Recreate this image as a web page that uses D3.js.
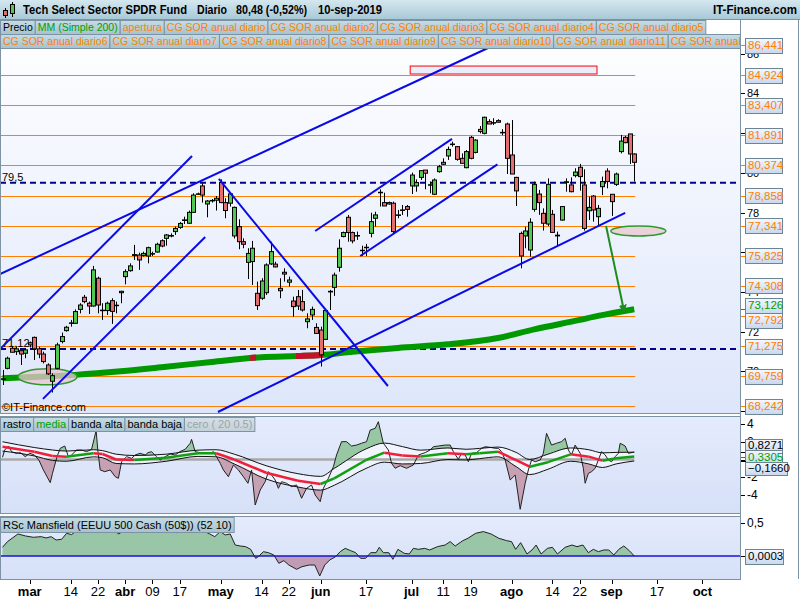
<!DOCTYPE html>
<html><head><meta charset="utf-8">
<script src="https://cdn.jsdelivr.net/npm/d3@7"></script>
<style>body{margin:0;background:#fff}svg{display:block;font-family:"Liberation Sans",Arial,sans-serif}</style>
</head><body><svg id="c" width="800" height="600"></svg>
<script>
// ---------- DATA ----------
const opens = [69.62,70.15,71.16,70.99,71.04,70.91,71.44,71.71,71.13,70.87,70.32,69.50,70.15,71.50,72.05,72.42,72.42,73.12,73.73,73.43,73.29,74.69,73.06,73.06,73.56,73.31,73.96,74.77,75.07,75.84,75.86,75.84,75.81,75.91,76.01,76.58,76.70,76.82,77.04,77.25,77.60,77.46,78.01,78.93,79.34,78.43,78.60,78.62,79.51,78.50,78.47,76.82,77.29,76.53,75.49,75.53,73.93,73.68,73.96,75.41,75.40,74.18,74.99,74.49,73.54,73.76,73.51,72.50,72.84,72.21,72.08,71.61,74.00,74.23,75.24,76.79,77.76,76.99,76.82,76.08,76.23,76.95,77.71,79.00,78.50,78.50,78.47,77.86,78.11,78.30,79.34,79.34,79.77,80.14,79.38,78.92,80.06,80.43,80.85,81.43,81.32,80.73,80.26,81.79,81.03,82.19,81.99,82.58,82.52,82.63,82.02,82.46,80.90,79.77,76.95,76.82,76.11,78.16,78.93,77.96,77.42,77.91,76.82,77.62,79.52,79.39,79.86,80.28,79.39,78.09,78.83,77.79,79.30,80.09,78.92,79.42,81.07,81.79,81.96,80.95];
const highs = [70.07,70.74,71.28,71.24,71.11,71.16,71.50,71.75,71.24,70.99,70.40,69.90,71.44,71.95,72.29,72.59,73.12,73.43,73.85,73.51,75.31,74.77,73.43,73.51,73.68,73.51,74.06,75.14,75.44,76.37,75.98,76.03,76.28,76.03,76.48,76.65,76.92,76.95,77.29,77.52,77.79,78.10,78.97,79.00,79.47,78.63,78.68,78.83,79.67,78.72,78.97,78.30,77.66,76.70,76.20,76.57,74.52,74.69,75.44,76.53,75.52,74.69,75.19,74.77,73.76,74.10,74.10,72.92,73.26,72.42,72.25,73.09,74.10,74.97,76.65,77.04,77.88,77.04,77.04,76.33,76.42,77.99,78.04,79.17,79.00,78.55,78.55,78.13,78.38,78.38,80.01,79.67,80.14,80.14,79.56,79.72,80.40,80.73,81.32,81.57,81.35,80.98,81.15,81.86,81.69,82.36,82.83,82.70,82.75,82.70,82.20,82.53,82.66,79.80,77.04,77.29,77.71,79.56,79.14,78.21,79.72,78.13,77.04,78.33,79.72,79.77,80.23,80.45,80.18,78.80,78.88,78.38,79.81,80.23,78.93,80.01,81.91,81.86,81.96,80.98];
const lows = [69.31,70.10,70.96,70.82,70.32,70.66,71.20,70.57,70.66,70.40,69.82,68.93,70.10,71.41,72.00,72.25,72.39,72.92,73.43,72.89,73.26,72.92,72.59,72.84,72.39,72.92,73.43,74.38,75.02,75.61,75.11,75.78,75.44,75.81,75.98,76.25,76.33,76.75,76.87,77.18,77.42,77.42,77.99,78.90,78.50,77.76,78.50,78.10,78.47,77.71,78.30,76.69,76.15,76.20,74.65,74.35,73.09,73.60,73.85,75.36,75.24,73.68,74.52,74.27,72.75,73.09,73.01,72.17,72.59,71.88,70.24,71.61,73.09,73.80,75.02,76.75,76.53,76.45,76.62,75.81,75.81,76.75,77.29,78.30,78.33,78.40,76.95,77.71,77.88,77.79,78.93,79.05,79.64,79.17,78.97,78.88,80.01,80.40,80.65,81.32,80.61,80.48,80.23,80.68,80.98,81.99,81.94,82.46,82.41,82.53,81.90,79.94,79.94,78.33,75.19,76.20,75.78,78.04,77.88,77.09,77.32,76.99,76.28,77.59,79.05,79.02,79.77,79.10,77.09,77.62,77.54,77.29,78.88,79.22,77.83,79.34,80.98,81.49,80.45,79.56];
const closes = [69.60,70.66,70.96,71.13,70.87,71.08,71.33,71.13,70.87,70.49,69.87,69.78,71.33,71.75,72.22,72.44,73.01,73.34,73.51,73.29,75.11,73.34,73.08,73.43,73.02,73.33,74.03,75.02,75.31,75.88,75.61,75.94,76.23,75.93,76.40,76.31,76.87,76.84,77.20,77.45,77.63,78.01,78.88,78.94,78.88,78.58,78.61,78.72,78.50,78.10,78.94,78.26,76.53,76.40,75.94,76.20,73.31,74.55,75.36,76.03,75.26,74.06,74.90,74.60,73.26,73.29,73.09,72.64,73.12,71.91,70.83,73.06,74.03,74.85,76.20,76.99,76.99,76.57,76.84,76.10,76.25,77.54,77.88,79.02,78.33,78.43,77.04,77.88,78.13,78.16,79.89,79.51,80.11,79.98,79.40,79.64,80.31,80.53,81.18,81.45,80.68,80.48,81.07,80.73,81.65,82.08,82.80,82.46,82.53,82.55,82.04,80.73,79.94,79.09,75.81,77.07,77.51,79.42,78.50,77.46,79.42,77.00,76.86,78.30,79.55,79.05,80.04,79.81,77.20,78.26,78.13,78.21,79.56,79.56,78.55,79.94,81.60,81.52,80.95,80.53];

// x-axis ticks (trading-day index from 21-feb-2019)
const tickIdx = [6,15,21,27,33,39,48,57,63,70,80,90,97,103,112,121,127,134,144,154];
const tickLabels = ["mar","14","22","abr","09","17","may","14","22","jun","17","jul","11","19","ago","14","22","sep","17","oct"];
const tickMonth = [1,0,0,1,0,0,1,0,0,1,0,1,0,0,1,0,0,1,0,1];

// Moving average 200 (index, value)
const mmIdx = [0,8,16,26,36,46,57,65,70,77,87,98,109,117,127,131,139];
const mmVal = [69.65,69.72,69.82,70.00,70.23,70.47,70.71,70.77,70.82,70.98,71.18,71.36,71.68,72.11,72.59,72.79,73.13];
const mmRedRanges = [[54.5,55.8],[64.6,70.5]];

// CG SOR levels and horizontal dashed levels
const sorLevels = [86.441,84.924,83.407,81.891,80.374,78.858,77.341,75.825,74.308,72.792,71.275,69.759,68.242];
const dashLevels = [79.5,71.12];
const dashLabels = ["79,5","71,12"];

// trend lines [idx1, v1, idx2, v2]
const trendLines = [
  [-0.55,74.90,107.3,86.34],
  [-0.55,71.12,41.7,80.85],
  [8.9,68.61,44.6,76.77],
  [47.6,79.69,84.8,69.26],
  [68.8,77.07,98.9,81.71],
  [78.7,75.81,108.9,80.43],
  [47.4,67.95,137.0,77.98]
];
const arrowLine = [132.8,77.32,136.8,72.99];
const ellipses = [[139.9,77.07],[9.9,69.72]];
const boxZone = [89.7,85.38,130.8,84.98];

// Indicator panel: rastro, media, banda alta, banda baja
const rastro = [[0,0.25],[0.5,1.07],[1.3,1.52],[2,0.88],[3,0.70],[4,0.77],[5,0.32],[6,0.70],[7,0.51],[8,-0.06],[9,-1.18],[10.5,-2.61],[11,-1.56],[12,0.32],[12.7,1.26],[13.7,1.52],[14.5,0.32],[15.2,0.51],[16.3,1.07],[17.4,1.07],[18.5,0.88],[19.6,1.15],[20.6,3.25],[21,0.88],[21.5,-1.18],[22.5,-1.37],[23.7,-1.18],[24.8,-1.94],[25.5,-2.12],[26.2,-0.25],[27.3,0.32],[28.4,0.13],[29.2,0.51],[30.3,0.70],[31.4,0.51],[32,0.77],[32.8,0.88],[33.9,0.32],[34.7,-0.06],[35.8,0.32],[36.9,0.62],[38,0.51],[39,0.88],[40.2,1.15],[41.3,1.83],[41.6,2.27],[42.4,0.88],[43.5,0.77],[44.6,0.77],[45.7,0.70],[46.4,0.88],[47.1,0.32],[47.9,-0.43],[48.6,-1.18],[49.7,-1.94],[50.8,-0.62],[51.9,-1.18],[53,-1.94],[54,-2.68],[54.8,-1.18],[55.6,-5.13],[56.7,-3.44],[57.8,-2.50],[58.5,-1.37],[59.2,-1.75],[60,-2.31],[60.7,-3.25],[61.4,-2.50],[62.5,-2.68],[63.6,-3.06],[64.7,-2.87],[65.8,-4.37],[66.9,-3.25],[68,-2.87],[68.8,-4.0],[69.9,-4.75],[70.6,-3.25],[71.7,-2.12],[72.8,-0.81],[73.5,0.51],[74.6,2.01],[75.7,2.01],[76.8,1.52],[77.9,1.63],[79,1.83],[80.1,2.01],[80.9,3.32],[82,3.51],[82.7,4.26],[83.8,1.83],[84.9,1.07],[85.6,-0.43],[86.4,-0.99],[87.5,-0.70],[88.9,-0.99],[90.4,-0.62],[91.5,0.51],[93,0.77],[94.1,1.07],[94.8,1.44],[95.9,1.52],[97.4,1.63],[98.5,1.63],[99.2,0.88],[100.3,0.02],[101,0.70],[101.8,0.51],[102.5,-0.25],[103.2,0.70],[104.3,0.77],[105.4,1.26],[106.2,1.44],[107.3,1.37],[108.4,1.26],[109.1,1.26],[109.8,0.88],[110.6,-0.06],[111.7,-2.31],[112.8,-1.75],[113.9,-5.61],[115,-2.68],[115.7,-1.18],[116.4,-0.06],[117.2,-0.25],[118.3,-0.06],[119,0.70],[119.7,2.95],[120.8,1.63],[121.9,1.83],[123,2.01],[123.8,2.39],[124.5,1.07],[125.2,0.51],[126,1.63],[127.1,0.70],[127.8,-0.99],[128.2,-2.68],[128.9,-1.56],[129.6,-1.37],[130.4,-0.99],[131.1,-0.06],[131.8,0.88],[132.6,0.51],[133.3,-0.06],[134,-0.25],[134.8,0.32],[135.5,0.70],[135.9,1.83],[137,1.52],[137.7,0.70],[139,0.83]];
const bandIdx = [0,7,11,14,20,22,25,29,36,43,47,51,58,65,70,73,80,84,88,92,98,102,105,109,113,116,120,125,129,132,135,139];
const mediaVal = [1.44,0.88,0.40,0.32,0.70,0.62,0.00,-0.06,0.20,0.70,0.70,0.00,-1.49,-2.39,-2.76,-2.12,-0.06,0.77,0.45,0.35,0.70,0.58,0.70,0.88,-0.06,-0.81,-0.30,0.58,0.32,-0.13,0.13,0.3305];
const altaVal = [2.00,1.35,1.07,0.95,1.10,1.00,0.60,0.45,0.60,1.05,1.10,0.60,-0.70,-1.60,-1.90,-1.00,1.20,1.85,1.45,1.05,1.30,1.15,1.25,1.40,0.80,0.00,0.60,1.30,1.10,0.75,0.80,0.8271];
const bajaVal = [0.95,0.40,-0.10,-0.20,0.30,0.20,-0.45,-0.50,-0.20,0.35,0.30,-0.50,-2.20,-3.10,-3.45,-2.90,-1.00,-0.30,-0.50,-0.45,0.00,-0.05,0.10,0.30,-0.80,-1.70,-1.10,-0.20,-0.50,-0.90,-0.50,-0.1660];

// RSc Mansfield
const mansfield = [[0,0.133],[1.1,0.22],[3.4,0.337],[5.1,0.306],[6.8,0.286],[8.5,0.296],[9.6,0.276],[10.7,0.296],[11.8,0.245],[13,0.255],[14.1,0.347],[15.2,0.327],[16.3,0.388],[17.5,0.408],[19.1,0.449],[20.8,0.439],[22,0.408],[23.1,0.424],[24.2,0.398],[25.6,0.337],[27,0.408],[28.7,0.424],[29.8,0.449],[31,0.373],[32.1,0.398],[33.2,0.388],[34.3,0.424],[35.6,0.373],[36.7,0.388],[38.3,0.357],[39.4,0.398],[40.5,0.424],[41.7,0.449],[42.8,0.424],[44.5,0.373],[45.6,0.337],[46.7,0.296],[47.9,0.373],[49,0.322],[50.1,0.337],[51.2,0.168],[52.3,0.153],[53.5,0.143],[54.6,0.102],[55.7,-0.036],[56.3,-0.010],[57.4,0.066],[58.5,0.051],[59.7,0.015],[60.8,-0.112],[61.9,-0.071],[63,-0.138],[64.7,-0.204],[65.9,-0.163],[67.5,-0.138],[68.7,-0.138],[69.8,-0.306],[70.9,-0.138],[72,-0.061],[73.3,-0.010],[74.3,0.066],[75.4,0.117],[76.6,0.082],[77.7,0.051],[78.8,-0.036],[79.9,-0.036],[81,0.051],[82.2,0.051],[82.9,0.133],[83.8,0.051],[85,0.051],[85.9,-0.051],[87,0.102],[88.4,0.041],[89.5,0.031],[90.4,0.117],[91.5,0.102],[92.9,0.117],[94,0.092],[95.7,0.143],[97.4,0.168],[98.5,0.220],[99.6,0.153],[101.3,0.235],[102.4,0.271],[104.1,0.347],[105.8,0.373],[107.5,0.337],[109.2,0.271],[110.9,0.235],[112,0.220],[112.9,0.102],[114,0.204],[115.4,0.031],[116.5,0.092],[117.4,0.168],[118.5,0.031],[119.9,0.117],[121,0.133],[122.1,0.031],[123.8,0.133],[125.3,0.168],[126.4,0.143],[127.7,0.168],[128.9,0.051],[130,0.102],[131.1,0.066],[132.3,0.092],[133.4,0.092],[134.5,0.015],[135.6,0.102],[136.7,0.153],[137.9,0.082],[139,0.0003]];

const legendRow1 = ["Precio","MM (Simple 200)","apertura","CG SOR anual diario","CG SOR anual diario2","CG SOR anual diario3","CG SOR anual diario4","CG SOR anual diario5"];
const legendRow1Col = ["#000","#00a000","#ff8000","#ff8000","#ff8000","#ff8000","#ff8000","#ff8000"];
const legendRow2 = ["CG SOR anual diario6","CG SOR anual diario7","CG SOR anual diario8","CG SOR anual diario9","CG SOR anual diario10","CG SOR anual diario11","CG SOR anual diario12"];
const ind1Legend = ["rastro","media","banda alta","banda baja","cero ( 20 0.5)"];
const ind1LegendCol = ["#000","#00a000","#000","#000","#9aa4aa"];
const titleParts = ["Tech Select Sector SPDR Fund","Diario","80,48 (-0,52%)","10-sep-2019"];

// ---------- DRAW ----------
const svg = d3.select("#c");
const fmt = v => d3.format(",.3f")(v).replace(".", ",");
const ORANGE = "#ff8000", BORDER = "#7d93a3";
const defs = svg.append("defs");
function grad(id, c1, c2){ const g = defs.append("linearGradient").attr("id",id).attr("x1",0).attr("y1",0).attr("x2",0).attr("y2",1);
  g.append("stop").attr("offset","0%").attr("stop-color",c1); g.append("stop").attr("offset","100%").attr("stop-color",c2); }
grad("gHead","#d4e7ef","#a9c9d7"); grad("gTab","#c6dce5","#a5c2cf"); grad("gMain","#ffffff","#dde6fa");
grad("gInd","#e4ebfc","#d6e0f7"); grad("gBox","#f4f8ff","#c9d8ee"); grad("gTabG","#d6e0e6","#c2d0d8");

svg.append("rect").attr("width",800).attr("height",600).attr("fill","#fff");

const x = d3.scaleLinear().domain([0,154]).range([2.5, 2.5+154*4.545]);
const y = d3.scaleLinear().domain([68.242,86.441]).range([406.2,45]);
const y1 = d3.scaleLinear().domain([-4,4]).range([495,424]);
const y2 = d3.scaleLinear().domain([0,0.5]).range([556,523.3]);

// panels
const P0 = {t:19,b:413}, P1 = {t:416,b:513}, P2 = {t:516,b:579};
[[P0,"url(#gMain)","cp0"],[P1,"url(#gInd)","cp1"],[P2,"url(#gInd)","cp2"]].forEach(([p,f,id])=>{
  svg.append("rect").attr("x",0.5).attr("y",p.t+0.5).attr("width",740).attr("height",p.b-p.t).attr("fill",f).attr("stroke",BORDER);
  defs.append("clipPath").attr("id",id).append("rect").attr("x",1).attr("y",p.t+1).attr("width",739).attr("height",p.b-p.t-1);
});
svg.append("line").attr("x1",798.5).attr("x2",798.5).attr("y1",19).attr("y2",579).attr("stroke",BORDER);

// ---- main panel ----
const m = svg.append("g").attr("clip-path","url(#cp0)");
const lastX = x(opens.length-1);
m.selectAll("line.sor").data(sorLevels).join("line").attr("x1",0).attr("x2",lastX+1)
  .attr("y1",d=>Math.round(y(d))+0.5).attr("y2",d=>Math.round(y(d))+0.5).attr("stroke",ORANGE).attr("stroke-width",1);
m.append("rect").attr("x",x(boxZone[0])).attr("y",y(boxZone[1])).attr("width",x(boxZone[2])-x(boxZone[0]))
  .attr("height",y(boxZone[3])-y(boxZone[1])).attr("fill","#e8eefc").attr("stroke","#ff0000");
m.selectAll("line.dash").data(dashLevels).join("line").attr("x1",0).attr("x2",740)
  .attr("y1",d=>y(d)).attr("y2",d=>y(d)).attr("stroke","#00008b").attr("stroke-width",2).attr("stroke-dasharray","6,4");
m.selectAll("text.dl").data(dashLevels).join("text").attr("x",2).attr("y",d=>y(d)-2).text((d,i)=>dashLabels[i])
  .style("font-size","11px").attr("fill","#000");

// MM200
const mmPts = mmIdx.map((d,i)=>[d,mmVal[i]]);
const mmLine = d3.line().x(d=>x(d[0])).y(d=>y(d[1])).curve(d3.curveMonotoneX);
m.append("path").attr("d",mmLine(mmPts)).attr("fill","none").attr("stroke","#009a00").attr("stroke-width",6);
mmRedRanges.forEach((r,k)=>{
  defs.append("clipPath").attr("id","mmr"+k).append("rect").attr("x",x(r[0])).attr("y",0).attr("width",x(r[1])-x(r[0])).attr("height",600);
  m.append("path").attr("d",mmLine(mmPts)).attr("fill","none").attr("stroke","#c8102e").attr("stroke-width",6).attr("clip-path",`url(#mmr${k})`);
});

// ellipses
m.selectAll("ellipse").data(ellipses).join("ellipse").attr("cx",d=>x(d[0])).attr("cy",d=>y(d[1]))
  .attr("rx",(d,i)=>i===0?27.5:29.5).attr("ry",(d,i)=>i===0?5:8)
  .attr("fill","#e9c6cf").attr("fill-opacity",0.75).attr("stroke","#2e9a2e").attr("stroke-width",1.5);

// candles
const candles = d3.range(opens.length).map(i=>({i,o:opens[i],h:highs[i],l:lows[i],c:closes[i]}));
m.selectAll("line.wick").data(candles).join("line").attr("x1",d=>Math.round(x(d.i))+0.5).attr("x2",d=>Math.round(x(d.i))+0.5)
  .attr("y1",d=>y(d.h)).attr("y2",d=>y(d.l)).attr("stroke","#000").attr("stroke-width",1);
m.selectAll("rect.body").data(candles).join("rect")
  .attr("x",d=>Math.round(x(d.i))-1.5).attr("width",4)
  .attr("y",d=>Math.min(y(d.o),y(d.c))).attr("height",d=>Math.max(Math.abs(y(d.o)-y(d.c)),0.5))
  .attr("fill",d=>d.c>=d.o?"#52c852":"#e46e6e").attr("stroke","#000").attr("stroke-width",1);

// trend lines
m.selectAll("line.tl").data(trendLines).join("line").attr("x1",d=>x(d[0])).attr("y1",d=>y(d[1])).attr("x2",d=>x(d[2])).attr("y2",d=>y(d[3]))
  .attr("stroke","#0a0ae6").attr("stroke-width",2);

// arrow
const mk = defs.append("marker").attr("id","arr").attr("viewBox","0 0 10 10").attr("refX",9).attr("refY",5)
  .attr("markerWidth",4).attr("markerHeight",4).attr("orient","auto");
mk.append("path").attr("d","M0,0L10,5L0,10z").attr("fill","#1e8c1e");
m.append("line").attr("x1",x(arrowLine[0])).attr("y1",y(arrowLine[1])).attr("x2",x(arrowLine[2])).attr("y2",y(arrowLine[3]))
  .attr("stroke","#1e8c1e").attr("stroke-width",2).attr("marker-end","url(#arr)");

m.append("text").attr("x",2).attr("y",411).text("©IT-Finance.com").style("font-size","11px").attr("fill","#000");

// right axis main
const ax = svg.append("g");
ax.append("line").attr("x1",740.5).attr("x2",740.5).attr("y1",19).attr("y2",579).attr("stroke",BORDER);
const intTicks = d3.range(68,88,2);
ax.selectAll("line.it").data(intTicks).join("line").attr("x1",741).attr("x2",745).attr("y1",d=>Math.round(y(d))+0.5).attr("y2",d=>Math.round(y(d))+0.5).attr("stroke","#000");
ax.selectAll("text.it").data(intTicks).join("text").attr("x",747).attr("y",d=>y(d)+4).text(d=>d).style("font-size","11px");

function spread(items,gap){ items.sort((a,b)=>a.y-b.y);
  for(let it=0;it<60;it++){ let mv=false;
    for(let k=1;k<items.length;k++){ const dd=items[k].y-items[k-1].y; if(dd<gap){const s=(gap-dd)/2; items[k].y+=s; items[k-1].y-=s; mv=true;} }
    if(!mv)break; } return items; }
function boxLabel(g, yy, ytick, txt, col, w, h){
  g.append("line").attr("x1",741).attr("x2",746).attr("y1",Math.round(ytick)+0.5).attr("y2",Math.round(ytick)+0.5).attr("stroke",col);
  g.append("rect").attr("x",745.5).attr("y",Math.round(yy-h/2)+0.5).attr("width",w).attr("height",h).attr("fill","url(#gBox)").attr("stroke","#6b8595");
  g.append("text").attr("x",748).attr("y",yy+4).text(txt).attr("fill",col).style("font-size","11.5px");
}
const mainLabels = sorLevels.map(v=>({v,y:y(v),t:fmt(v),c:ORANGE})).concat([{v:73.126,y:y(73.126),t:"73,126",c:"#00a000"}]);
spread(mainLabels.map(d=>Object.assign({},d)),15).forEach(d=>boxLabel(ax,d.y,y(d.v),d.t,d.c,37,15));

// legends
function tabs(g, items, cols, x0, y0, h, bg, fs){
  let xx=x0;
  items.forEach((t,i)=>{
    const gg=g.append("g"); const r=gg.append("rect").attr("y",y0+0.5).attr("height",h).attr("fill",bg?bg[i]:"url(#gTab)").attr("stroke",BORDER);
    const tx=gg.append("text").attr("x",xx+3).attr("y",y0+h-3).text(t).attr("fill",cols[i]).style("font-size",(fs||10.5)+"px");
    const w=tx.node().getComputedTextLength()+5; r.attr("x",xx+0.5).attr("width",w); xx+=w;
  });
}
const lg = svg.append("g");
tabs(lg, legendRow1, legendRow1Col, 0, 20, 14);
const lg2 = svg.append("g").attr("clip-path","url(#cp0)");
tabs(lg2, legendRow2, legendRow2.map(()=>ORANGE), 0, 34, 14);

// header
svg.append("rect").attr("x",0).attr("y",0).attr("width",800).attr("height",19).attr("fill","url(#gHead)");
svg.append("line").attr("x1",0).attr("x2",800).attr("y1",19.5).attr("y2",19.5).attr("stroke",BORDER);
const ic = svg.append("g");
ic.append("line").attr("x1",5.5).attr("x2",5.5).attr("y1",8).attr("y2",18).attr("stroke","#000");
ic.append("rect").attr("x",3.5).attr("y",10.5).attr("width",4).attr("height",5).attr("fill","#e46e6e").attr("stroke","#000");
ic.append("line").attr("x1",12.5).attr("x2",12.5).attr("y1",2).attr("y2",17).attr("stroke","#000");
ic.append("rect").attr("x",10.5).attr("y",4.5).attr("width",4).attr("height",9).attr("fill","#52c852").attr("stroke","#000");
const titleX = [23,197,236,318], titleW = [164,30,71,64];
svg.selectAll("text.tt").data(titleParts).join("text").attr("x",(d,i)=>titleX[i]).attr("y",14).text(d=>d)
  .attr("textLength",(d,i)=>titleW[i]).attr("lengthAdjust","spacingAndGlyphs")
  .style("font-size","12.5px").style("font-weight","bold");
svg.append("text").attr("x",713).attr("y",14).text("IT-Finance.com").attr("textLength",84).attr("lengthAdjust","spacingAndGlyphs")
  .style("font-size","12.5px").style("font-weight","bold");

// ---- indicator panel 1 ----
const p1 = svg.append("g").attr("clip-path","url(#cp1)");
const altaPts = bandIdx.map((d,i)=>[d,altaVal[i]]), bajaPts = bandIdx.map((d,i)=>[d,bajaVal[i]]), medPts = bandIdx.map((d,i)=>[d,mediaVal[i]]);
const cm = d3.curveMonotoneX;
p1.append("path").attr("d",d3.area().x(d=>x(d[0])).y0((d,i)=>y1(bajaVal[i])).y1(d=>y1(d[1])).curve(cm)(altaPts)).attr("fill","#ffffff").attr("fill-opacity",0.55);
p1.append("line").attr("x1",0).attr("x2",lastX).attr("y1",y1(0)).attr("y2",y1(0)).attr("stroke","#a8a8a8").attr("stroke-width",2.5);
defs.append("clipPath").attr("id","aboveAlta").append("path").attr("d",d3.area().x(d=>x(d[0])).y0(P1.t).y1(d=>y1(d[1])).curve(cm)(altaPts));
defs.append("clipPath").attr("id","belowBaja").append("path").attr("d",d3.area().x(d=>x(d[0])).y0(P1.b).y1(d=>y1(d[1])).curve(cm)(bajaPts));
const rl = d3.line().x(d=>x(d[0])).y(d=>y1(d[1]));
p1.append("g").attr("clip-path","url(#aboveAlta)").append("path").attr("d",d3.area().x(d=>x(d[0])).y0(P1.b).y1(d=>y1(d[1]))(rastro)).attr("fill","#98c7a4");
p1.append("g").attr("clip-path","url(#belowBaja)").append("path").attr("d",d3.area().x(d=>x(d[0])).y0(P1.t).y1(d=>y1(d[1]))(rastro)).attr("fill","#c5a1b3");
p1.append("path").attr("d",rl(rastro)).attr("fill","none").attr("stroke","#222").attr("stroke-width",1);
const bl = d3.line().x(d=>x(d[0])).y(d=>y1(d[1])).curve(cm);
p1.append("path").attr("d",bl(altaPts)).attr("fill","none").attr("stroke","#111").attr("stroke-width",1);
p1.append("path").attr("d",bl(bajaPts)).attr("fill","none").attr("stroke","#111").attr("stroke-width",1);
for(let i=1;i<medPts.length;i++){
  p1.append("path").attr("d",bl([medPts[i-1],medPts[i]])).attr("fill","none")
    .attr("stroke",mediaVal[i]>=mediaVal[i-1]?"#10a010":"#f0203c").attr("stroke-width",2.5);
}
tabs(svg.append("g"), ind1Legend, ind1LegendCol, 0, 417, 14, ["url(#gTab)","url(#gTab)","url(#gTab)","url(#gTab)","url(#gTabG)"], 11);
// axis p1
const t1 = [4,2,0,-2,-4];
ax.selectAll("line.t1").data(t1).join("line").attr("x1",741).attr("x2",745).attr("y1",d=>Math.round(y1(d))+0.5).attr("y2",d=>Math.round(y1(d))+0.5).attr("stroke","#000");
ax.selectAll("text.t1").data(t1).join("text").attr("x",747).attr("y",d=>y1(d)+4).text(d=>d).style("font-size","12px");
const l1 = [{v:altaVal[altaVal.length-1],c:"#000"},{v:mediaVal[mediaVal.length-1],c:"#00a000"},{v:bajaVal[bajaVal.length-1],c:"#000"}].map(d=>({...d,y:y1(d.v),t:d3.format(".4f")(d.v).replace(".",",")}));
spread(l1.map(d=>Object.assign({},d)),11.5).forEach(d=>boxLabel(ax,d.y,y1(d.v),d.t,d.c,d.v<0?42:37,13));

// ---- panel 2 Mansfield ----
const p2 = svg.append("g").attr("clip-path","url(#cp2)");
defs.append("clipPath").attr("id","posM").append("rect").attr("x",0).attr("y",P2.t).attr("width",740).attr("height",y2(0)-P2.t);
defs.append("clipPath").attr("id","negM").append("rect").attr("x",0).attr("y",y2(0)).attr("width",740).attr("height",P2.b-y2(0));
const ma = d3.area().x(d=>x(d[0])).y0(y2(0)).y1(d=>y2(d[1]));
p2.append("g").attr("clip-path","url(#posM)").append("path").attr("d",ma(mansfield)).attr("fill","#98c6a6");
p2.append("g").attr("clip-path","url(#negM)").append("path").attr("d",ma(mansfield)).attr("fill","#c09cb4");
p2.append("line").attr("x1",0).attr("x2",740).attr("y1",y2(0)).attr("y2",y2(0)).attr("stroke","#1414d8").attr("stroke-width",1.5);
p2.append("path").attr("d",d3.line().x(d=>x(d[0])).y(d=>y2(d[1]))(mansfield)).attr("fill","none").attr("stroke","#222").attr("stroke-width",1);
tabs(svg.append("g"), ["RSc Mansfield (EEUU 500 Cash (50$)) (52 10)"], ["#000"], 0, 517, 15, null, 11);
ax.append("line").attr("x1",741).attr("x2",745).attr("y1",Math.round(y2(0.5))+0.5).attr("y2",Math.round(y2(0.5))+0.5).attr("stroke","#000");
ax.append("text").attr("x",747).attr("y",y2(0.5)+4).text("0,5").style("font-size","12px");
boxLabel(ax,y2(0),y2(0),"0,0003","#000",38,15);

// ---- x axis ----
const xa = svg.append("g");
xa.selectAll("line").data(tickIdx).join("line").attr("x1",d=>Math.round(x(d))+0.5).attr("x2",d=>Math.round(x(d))+0.5).attr("y1",580).attr("y2",584).attr("stroke","#000");
xa.selectAll("text").data(tickIdx).join("text").attr("x",d=>x(d)).attr("y",596).attr("text-anchor","middle")
  .text((d,i)=>tickLabels[i]).style("font-family",'"Liberation Sans Narrow","Arial Narrow","Liberation Sans",sans-serif')
  .style("font-size","13px").style("font-weight",(d,i)=>tickMonth[i]?"bold":"normal");
</script></body></html>
